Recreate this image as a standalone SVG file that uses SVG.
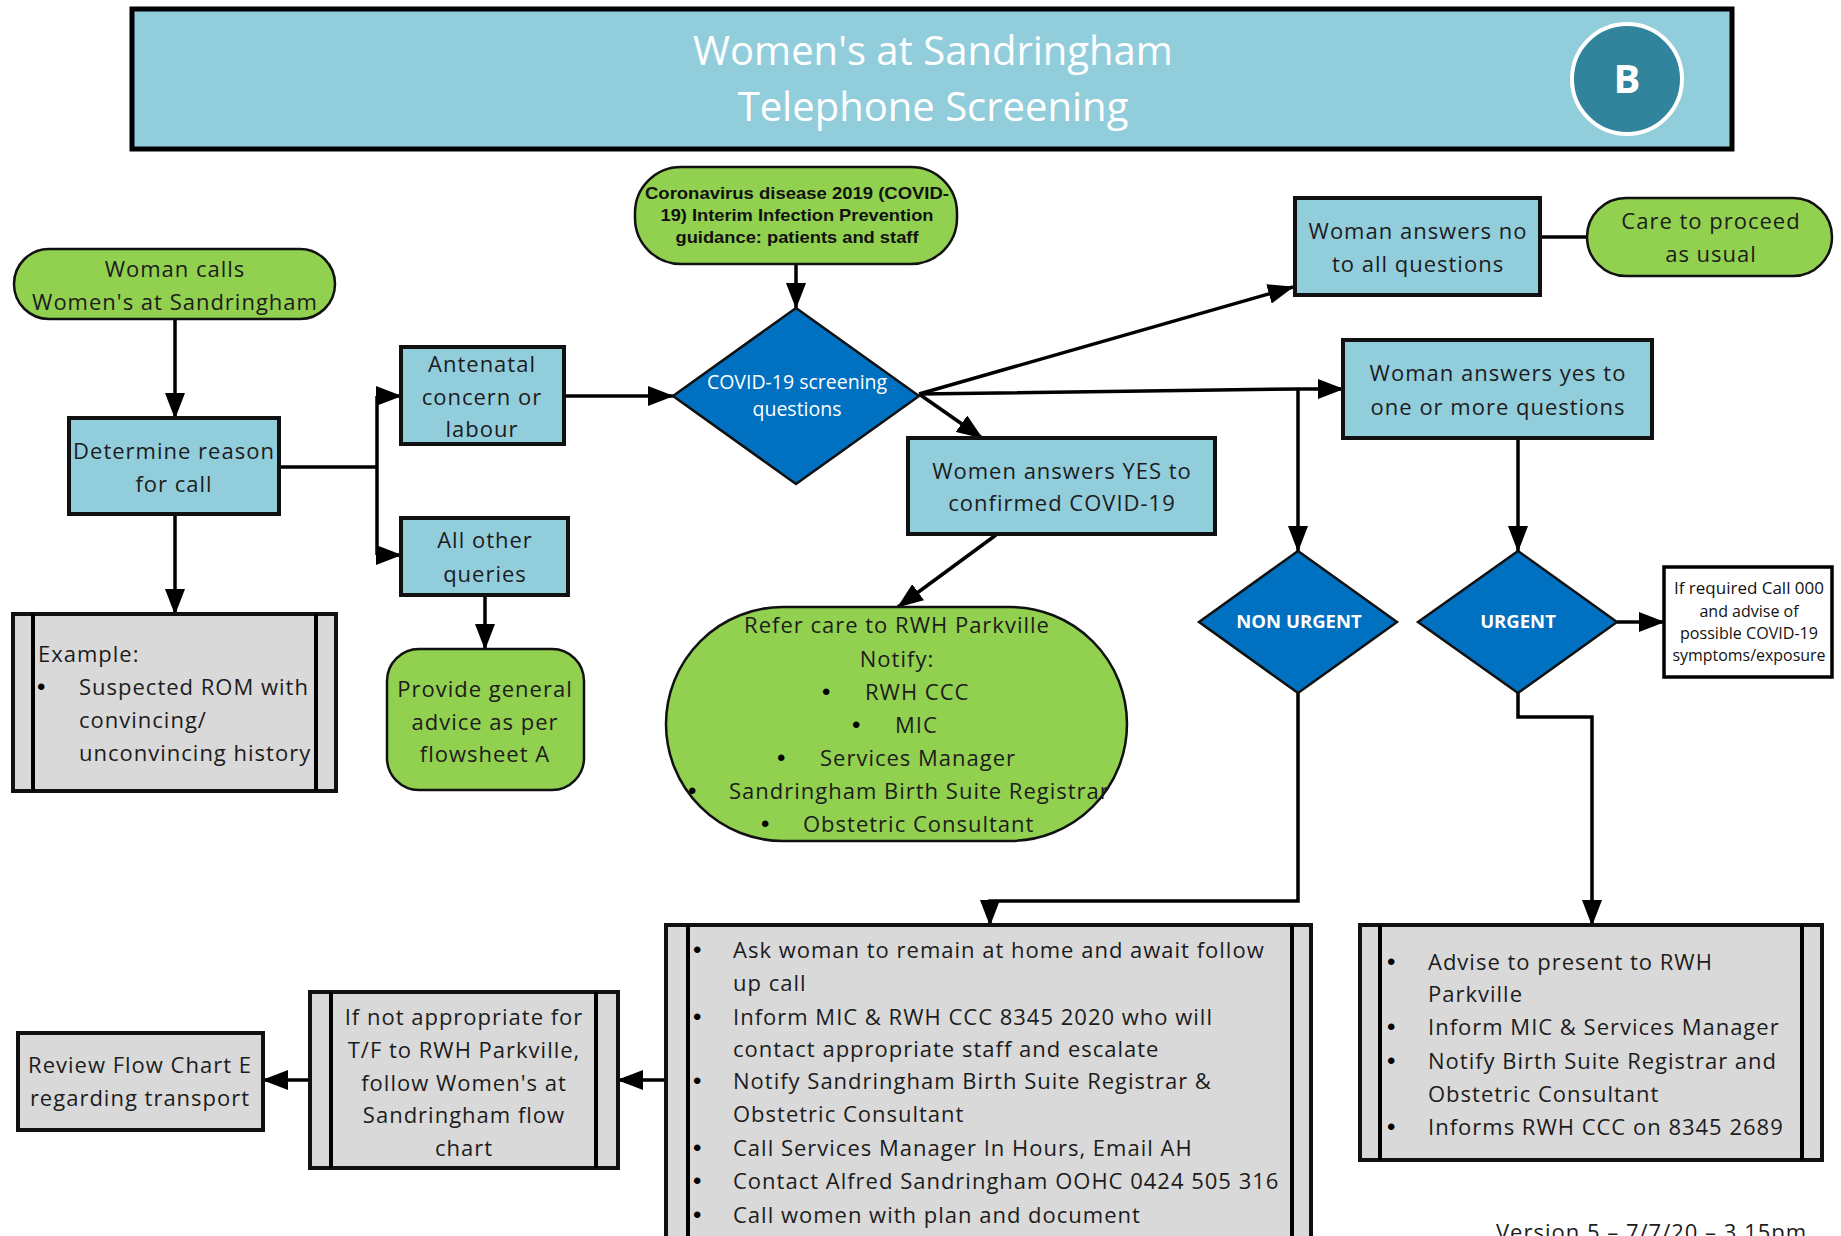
<svg xmlns="http://www.w3.org/2000/svg" width="1841" height="1236" viewBox="0 0 1841 1236">
<defs>
<style>
.t{font-family:"Open Sans","Liberation Sans",sans-serif;font-size:22px;letter-spacing:1px;fill:#1c1c1c}
.c{text-anchor:middle}
.b{font-family:"Liberation Sans",sans-serif;font-size:24px;fill:#000}
.blue{fill:#92CDDC;stroke:#111;stroke-width:4}
.green{fill:#92D050;stroke:#111;stroke-width:2.5}
.gray{fill:#D9D9D9;stroke:#111;stroke-width:4}
.dia{fill:#0070C0;stroke:#111;stroke-width:2.5}
.wt{font-family:"Open Sans","Liberation Sans",sans-serif;fill:#fff}
.ln{fill:none;stroke:#000;stroke-width:4}
.cn{fill:none;stroke:#000;stroke-width:3.5}
.sm{font-family:"Open Sans","Liberation Sans",sans-serif;font-size:16px;fill:#111;text-anchor:middle}
</style>
<marker id="ah" markerUnits="userSpaceOnUse" markerWidth="26" markerHeight="20" viewBox="0 0 26 20" refX="25" refY="10" orient="auto">
<path d="M0,0 L26,10 L0,20 Z" fill="#000"/>
</marker>
</defs>
<rect width="1841" height="1236" fill="#fff"/>

<g id="header">
<rect x="132" y="9" width="1600" height="140" fill="#92CDDC" stroke="#000" stroke-width="5"/>
<text class="wt c" x="933" y="65" font-size="40">Women's at Sandringham</text>
<text class="wt c" x="933" y="121" font-size="40">Telephone Screening</text>
<circle cx="1627" cy="79" r="55" fill="#31849B" stroke="#fff" stroke-width="4"/>
<text class="wt c" x="1627" y="93" font-size="40" font-weight="bold">B</text>
</g>

<g id="connectors">
<path class="cn" d="M175,319 V418" marker-end="url(#ah)"/>
<path class="cn" d="M175,514 V614" marker-end="url(#ah)"/>
<path class="cn" d="M279,467 H377"/>
<path class="cn" d="M377,396 V555"/>
<path class="cn" d="M377,396 H401" marker-end="url(#ah)"/>
<path class="cn" d="M377,555 H401" marker-end="url(#ah)"/>
<path class="cn" d="M564,396 H673" stroke-width="5" marker-end="url(#ah)"/>
<path class="cn" d="M485,595 V649" marker-end="url(#ah)"/>
<path class="cn" d="M796,264 V308" marker-end="url(#ah)"/>
<path class="cn" d="M919,394 L1293,287" stroke-width="3" marker-end="url(#ah)"/>
<path class="cn" d="M919,394 L1298,389 H1343" stroke-width="3" marker-end="url(#ah)"/>
<path class="cn" d="M1298,389 V551" marker-end="url(#ah)"/>
<path class="cn" d="M919,394 L982,438" stroke-width="3" marker-end="url(#ah)"/>
<path class="cn" d="M996,535 L898,607" stroke-width="3" marker-end="url(#ah)"/>
<path class="cn" d="M1540,237 H1587"/>
<path class="cn" d="M1518,438 V551" marker-end="url(#ah)"/>
<path class="cn" d="M1617,622 H1664" marker-end="url(#ah)"/>
<path class="cn" d="M1298,693 V901 H990 V925" marker-end="url(#ah)"/>
<path class="cn" d="M1518,693 V717 H1592 V925" marker-end="url(#ah)"/>
<path class="cn" d="M666,1080 H618" marker-end="url(#ah)"/>
<path class="cn" d="M310,1080 H263" marker-end="url(#ah)"/>
</g>

<g id="n-woman-calls">
<rect class="green" x="14" y="249" width="321" height="70" rx="35"/>
<text class="t c" x="175" y="277">Woman calls</text>
<text class="t c" x="175" y="310">Women's at Sandringham</text>
</g>

<g id="n-determine">
<rect class="blue" x="69" y="418" width="210" height="96"/>
<text class="t c" x="174" y="459">Determine reason</text>
<text class="t c" x="174" y="492">for call</text>
</g>

<g id="n-antenatal">
<rect class="blue" x="401" y="347" width="163" height="97"/>
<text class="t c" x="482" y="372">Antenatal</text>
<text class="t c" x="482" y="405">concern or</text>
<text class="t c" x="482" y="437">labour</text>
</g>

<g id="n-other">
<rect class="blue" x="401" y="518" width="167" height="77"/>
<text class="t c" x="485" y="548">All other</text>
<text class="t c" x="485" y="582">queries</text>
</g>

<g id="n-provide">
<rect class="green" x="387" y="649" width="197" height="141" rx="32"/>
<text class="t c" x="485" y="697">Provide general</text>
<text class="t c" x="485" y="730">advice as per</text>
<text class="t c" x="485" y="762">flowsheet A</text>
</g>

<g id="n-example">
<rect class="gray" x="13" y="614" width="323" height="177"/>
<path class="ln" d="M33,614 V791 M316,614 V791"/>
<text class="t" x="38" y="662">Example:</text>
<text class="b" x="37" y="695">•</text>
<text class="t" x="79" y="695">Suspected ROM with</text>
<text class="t" x="79" y="728">convincing/</text>
<text class="t" x="79" y="761">unconvincing history</text>
</g>

<g id="n-guidance">
<rect class="green" x="635" y="167" width="322" height="97" rx="46"/>
<g font-family="'Liberation Sans',Arial,sans-serif" font-weight="bold" font-size="17" fill="#111" text-anchor="middle">
<text x="797" y="199" textLength="304" lengthAdjust="spacingAndGlyphs">Coronavirus disease 2019 (COVID-</text>
<text x="797" y="221" textLength="273" lengthAdjust="spacingAndGlyphs">19) Interim Infection Prevention</text>
<text x="797" y="243" textLength="243" lengthAdjust="spacingAndGlyphs">guidance: patients and staff</text>
</g>
</g>

<g id="n-screening">
<polygon class="dia" points="796,308 919,396 796,484 673,396"/>
<text class="wt c" x="797" y="389" font-size="19.5">COVID-19 screening</text>
<text class="wt c" x="797" y="416" font-size="19.5">questions</text>
</g>

<g id="n-answers-no">
<rect class="blue" x="1295" y="198" width="245" height="97"/>
<text class="t c" x="1418" y="239">Woman answers no</text>
<text class="t c" x="1418" y="272">to all questions</text>
</g>

<g id="n-care">
<rect class="green" x="1587" y="198" width="245" height="78" rx="39"/>
<text class="t c" x="1711" y="229">Care to proceed</text>
<text class="t c" x="1711" y="262">as usual</text>
</g>

<g id="n-answers-yes">
<rect class="blue" x="1343" y="340" width="309" height="98"/>
<text class="t c" x="1498" y="381">Woman answers yes to</text>
<text class="t c" x="1498" y="415">one or more questions</text>
</g>

<g id="n-confirmed">
<rect class="blue" x="908" y="438" width="307" height="96"/>
<text class="t c" x="1062" y="479">Women answers YES to</text>
<text class="t c" x="1062" y="511">confirmed COVID-19</text>
</g>

<g id="n-refer">
<rect class="green" x="666" y="607" width="461" height="234" rx="117"/>
<text class="t c" x="897" y="633">Refer care to RWH Parkville</text>
<text class="t c" x="897" y="667">Notify:</text>
<text class="b" x="822" y="700">•</text><text class="t" x="865" y="700">RWH CCC</text>
<text class="b" x="852" y="733">•</text><text class="t" x="895" y="733">MIC</text>
<text class="b" x="777" y="766">•</text><text class="t" x="820" y="766">Services Manager</text>
<text class="b" x="688" y="799">•</text><text class="t" x="729" y="799">Sandringham Birth Suite Registrar</text>
<text class="b" x="761" y="832">•</text><text class="t" x="803" y="832">Obstetric Consultant</text>
</g>

<g id="n-non-urgent">
<polygon class="dia" points="1298,551 1397,622 1298,693 1199,622"/>
<text class="wt c" x="1299" y="628" font-size="18.5" font-weight="bold">NON URGENT</text>
</g>

<g id="n-urgent">
<polygon class="dia" points="1518,551 1617,622 1518,693 1418,622"/>
<text class="wt c" x="1518" y="628" font-size="18.5" font-weight="bold">URGENT</text>
</g>

<g id="n-call000">
<rect x="1664" y="567" width="168" height="110" fill="#fff" stroke="#000" stroke-width="3.5"/>
<text class="sm" x="1749" y="594" textLength="150" lengthAdjust="spacingAndGlyphs">If required Call 000</text>
<text class="sm" x="1749" y="617">and advise of</text>
<text class="sm" x="1749" y="639" textLength="138" lengthAdjust="spacingAndGlyphs">possible COVID-19</text>
<text class="sm" x="1749" y="661" textLength="153" lengthAdjust="spacingAndGlyphs">symptoms/exposure</text>
</g>

<g id="n-nonurgent-actions">
<rect class="gray" x="666" y="925" width="645" height="330"/>
<path class="ln" d="M688,925 V1240 M1292,925 V1240"/>
<text class="b" x="693" y="958">•</text><text class="t" x="733" y="958">Ask woman to remain at home and await follow</text>
<text class="t" x="733" y="991">up call</text>
<text class="b" x="693" y="1025">•</text><text class="t" x="733" y="1025">Inform MIC &amp; RWH CCC 8345 2020 who will</text>
<text class="t" x="733" y="1057">contact appropriate staff and escalate</text>
<text class="b" x="693" y="1089">•</text><text class="t" x="733" y="1089">Notify Sandringham Birth Suite Registrar &amp;</text>
<text class="t" x="733" y="1122">Obstetric Consultant</text>
<text class="b" x="693" y="1156">•</text><text class="t" x="733" y="1156">Call Services Manager In Hours, Email AH</text>
<text class="b" x="693" y="1189">•</text><text class="t" x="733" y="1189">Contact Alfred Sandringham OOHC 0424 505 316</text>
<text class="b" x="693" y="1223">•</text><text class="t" x="733" y="1223">Call women with plan and document</text>
</g>

<g id="n-urgent-actions">
<rect class="gray" x="1360" y="925" width="462" height="235"/>
<path class="ln" d="M1380,925 V1160 M1802,925 V1160"/>
<text class="b" x="1387" y="970">•</text><text class="t" x="1428" y="970">Advise to present to RWH</text>
<text class="t" x="1428" y="1002">Parkville</text>
<text class="b" x="1387" y="1035">•</text><text class="t" x="1428" y="1035">Inform MIC &amp; Services Manager</text>
<text class="b" x="1387" y="1069">•</text><text class="t" x="1428" y="1069">Notify Birth Suite Registrar and</text>
<text class="t" x="1428" y="1102">Obstetric Consultant</text>
<text class="b" x="1387" y="1135">•</text><text class="t" x="1428" y="1135">Informs RWH CCC on 8345 2689</text>
</g>

<g id="n-not-appropriate">
<rect class="gray" x="310" y="992" width="308" height="176"/>
<path class="ln" d="M331,992 V1168 M596,992 V1168"/>
<text class="t c" x="464" y="1025">If not appropriate for</text>
<text class="t c" x="464" y="1058">T/F to RWH Parkville,</text>
<text class="t c" x="464" y="1091">follow Women's at</text>
<text class="t c" x="464" y="1123">Sandringham flow</text>
<text class="t c" x="464" y="1156">chart</text>
</g>

<g id="n-review">
<rect class="gray" x="18" y="1033" width="245" height="97"/>
<text class="t c" x="140" y="1073">Review Flow Chart E</text>
<text class="t c" x="140" y="1106">regarding transport</text>
</g>

<text class="t" x="1496" y="1240">Version 5 – 7/7/20 – 3.15pm</text>
</svg>
